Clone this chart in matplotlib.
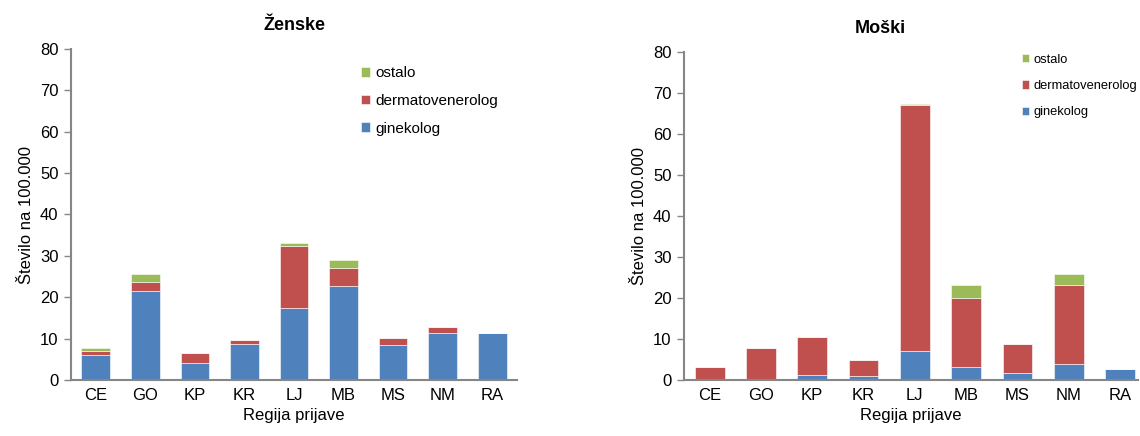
import numpy as np
import matplotlib
matplotlib.use('Agg')
import matplotlib.pyplot as plt

plt.rcParams['font.family'] = ['Liberation Sans', 'DejaVu Sans']

regije = ['CE', 'GO', 'KP', 'KR', 'LJ', 'MB', 'MS', 'NM', 'RA']

# Ženske
z_ginekolog = [6.0, 21.6, 4.0, 8.7, 17.3, 22.8, 8.5, 11.4, 11.4]
z_dermato = [1.1, 2.1, 2.5, 0.9, 15.2, 4.3, 1.7, 1.3, 0.0]
z_ostalo = [0.7, 2.0, 0.0, 0.0, 0.6, 1.8, 0.0, 0.0, 0.0]

# Moški
m_ginekolog = [0.0, 0.0, 1.2, 1.0, 7.1, 3.1, 1.7, 3.9, 2.8]
m_dermato = [3.2, 7.8, 9.3, 3.9, 59.9, 16.9, 7.0, 19.3, 0.0]
m_ostalo = [0.0, 0.0, 0.0, 0.0, 0.3, 3.2, 0.0, 2.7, 0.0]

modra = '#4F81BD'
rdeca = '#C0504D'
zelena = '#9BBB59'
siva = '#868686'


def narisi(ax, gin, derm, ost, naslov, desno_x, naslov_x, leg_size, leg_pos, leg_sp):
    x = np.arange(len(regije))
    gin = np.array(gin)
    derm = np.array(derm)
    ost = np.array(ost)
    w = 0.58
    ax.bar(x, gin, w, color=modra, edgecolor='white', linewidth=0.4, label='ginekolog')
    ax.bar(x, derm, w, bottom=gin, color=rdeca, edgecolor='white', linewidth=0.4,
           label='dermatovenerolog')
    ax.bar(x, ost, w, bottom=gin + derm, color=zelena, edgecolor='white', linewidth=0.4,
           label='ostalo')
    ax.set_xlim(-0.5, desno_x)
    ax.set_ylim(0, 80)
    ax.set_yticks(range(0, 81, 10))
    ax.set_xticks(x)
    ax.set_xticklabels(regije)
    ax.tick_params(axis='x', length=0, labelsize=12, pad=6, colors='black')
    ax.tick_params(axis='y', length=5, width=1, color=siva, labelsize=12, pad=4)
    for s in ['top', 'right']:
        ax.spines[s].set_visible(False)
    for s in ['left', 'bottom']:
        ax.spines[s].set_color(siva)
        ax.spines[s].set_linewidth(1.5)
    ax.set_title(naslov, fontsize=13, fontweight='bold', pad=14, x=naslov_x)
    ax.set_xlabel('Regija prijave', fontsize=12, labelpad=3)
    ax.set_ylabel('Število na 100.000', fontsize=12, labelpad=4)
    h, l = ax.get_legend_handles_labels()
    ax.legend(h[::-1], l[::-1], loc='upper left', bbox_to_anchor=leg_pos, frameon=False,
              fontsize=leg_size, handlelength=0.6, handleheight=0.6, handletextpad=0.3,
              labelspacing=leg_sp)


fig = plt.figure(figsize=(11.4, 4.36), dpi=100)
ax1 = fig.add_axes([71 / 1140, 56 / 436, 446 / 1140, 331 / 436])
ax2 = fig.add_axes([684 / 1140, 56 / 436, 454 / 1140, 328 / 436])

narisi(ax1, z_ginekolog, z_dermato, z_ostalo, 'Ženske', 8.5, 0.5, 11, (0.62, 0.99), 0.9)
narisi(ax2, m_ginekolog, m_dermato, m_ostalo, 'Moški', 8.35, 0.432, 9.3, (0.718, 1.03), 1.1)

fig.savefig('out.png', dpi=100)
